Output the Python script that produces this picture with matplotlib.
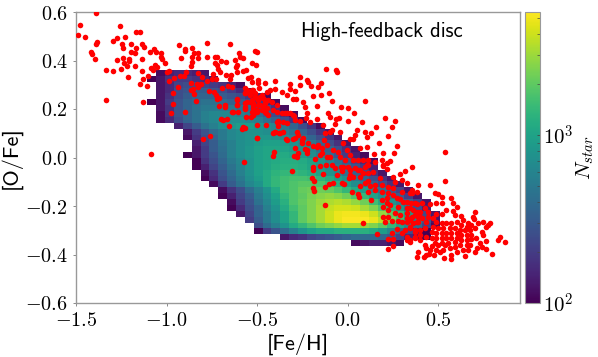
"""[O/Fe] vs [Fe/H] density map with red star overlay, high-feedback disc."""
import matplotlib
matplotlib.use("Agg")
import matplotlib.pyplot as plt
import numpy as np
from matplotlib.colors import LogNorm

plt.rcParams["mathtext.fontset"] = "cm"
plt.rcParams["axes.unicode_minus"] = False
plt.rcParams["axes.formatter.use_mathtext"] = True

XTICKS = [-1.5, -1.0, -0.5, 0.0, 0.5]
YTICKS = [-0.6, -0.4, -0.2, 0.0, 0.2, 0.4, 0.6]
XLIM = (-1.5, 0.95)
YLIM = (-0.6, 0.6)
NMIN, NMAX = 100, 5400

# histogram bins
FEH_START, FEH_STEP = -1.106, 0.0489
OFE_START, OFE_STEP = -0.365, 0.0242

# log10(N) per row, bottom row first: (first column, values)
LOGN_ROWS = [
    (23, [2.05, 2.1, 2.15, 2.15, 2.1, 2.05]),
    (15, [2.1, 2.2, 2.25, 2.35, 2.4, 2.45, 2.5, 2.55, 2.6, 2.6, 2.6, 2.55, 2.5, 2.35, 2.2, 2.1, 2.0]),
    (12, [2.0, 2.3, 2.45, 2.6, 2.75, 2.9, 3.0, 3.05, 3.05, 3.1, 3.1, 3.1, 3.1, 3.05, 2.95, 2.8, 2.6, 2.4, 2.2, 2.0]),
    (12, [2.4, 2.6, 2.75, 2.9, 3.05, 3.15, 3.25, 3.35, 3.4, 3.45, 3.5, 3.5, 3.45, 3.4, 3.3, 3.15, 3.0, 2.8, 2.6, 2.35, 2.05]),
    (11, [2.3, 2.5, 2.7, 2.85, 3.0, 3.15, 3.3, 3.4, 3.5, 3.6, 3.68, 3.72, 3.72, 3.72, 3.68, 3.55, 3.4, 3.2, 3.0, 2.75, 2.45, 2.1]),
    (10, [2.1, 2.35, 2.55, 2.7, 2.85, 3.0, 3.15, 3.3, 3.4, 3.5, 3.6, 3.68, 3.7, 3.7, 3.68, 3.6, 3.45, 3.3, 3.15, 2.95, 2.7, 2.4, 2.1]),
    (9, [2.0, 2.2, 2.4, 2.55, 2.75, 2.9, 3.05, 3.2, 3.3, 3.4, 3.5, 3.58, 3.62, 3.62, 3.6, 3.5, 3.4, 3.25, 3.1, 2.9, 2.65, 2.4, 2.15]),
    (9, [2.05, 2.3, 2.45, 2.65, 2.8, 2.95, 3.1, 3.25, 3.32, 3.4, 3.48, 3.52, 3.55, 3.52, 3.45, 3.35, 3.2, 3.05, 2.9, 2.75, 2.55, 2.35, 2.1]),
    (8, [2.0, 2.15, 2.35, 2.5, 2.7, 2.85, 3.0, 3.15, 3.25, 3.3, 3.38, 3.42, 3.45, 3.42, 3.35, 3.25, 3.15, 3.0, 2.85, 2.7, 2.5, 2.3, 2.1]),
    (8, [2.05, 2.25, 2.4, 2.6, 2.75, 2.9, 3.05, 3.2, 3.25, 3.32, 3.35, 3.35, 3.32, 3.25, 3.15, 3.05, 2.95, 2.8, 2.65, 2.5, 2.35, 2.1]),
    (7, [2.05, 2.3, 2.5, 2.65, 2.8, 2.9, 3.05, 3.15, 3.2, 3.25, 3.28, 3.28, 3.25, 3.18, 3.1, 3.0, 2.85, 2.7, 2.55, 2.4, 2.25, 2.1]),
    (6, [2.0, 2.2, 2.4, 2.55, 2.7, 2.85, 2.95, 3.05, 3.15, 3.2, 3.22, 3.22, 3.2, 3.12, 3.05, 2.95, 2.85, 2.7, 2.55, 2.4, 2.25, 2.1]),
    (6, [2.05, 2.25, 2.45, 2.6, 2.75, 2.88, 2.98, 3.05, 3.12, 3.15, 3.15, 3.12, 3.08, 3.0, 2.9, 2.8, 2.65, 2.55, 2.4, 2.25, 2.1]),
    (5, [2.0, 2.15, 2.35, 2.5, 2.65, 2.78, 2.9, 2.98, 3.02, 3.08, 3.1, 3.1, 3.08, 3.02, 2.92, 2.85, 2.72, 2.6, 2.45, 2.3, 2.15]),
    (5, [2.0, 2.25, 2.4, 2.55, 2.7, 2.8, 2.9, 2.98, 3.02, 3.05, 3.08, 3.08, 3.05, 3.0, 2.9, 2.78, 2.65, 2.5, 2.35, 2.2, 2.05]),
    (4, [2.0, 2.1, 2.3, 2.45, 2.6, 2.75, 2.85, 2.92, 2.98, 3.02, 3.05, 3.05, 3.02, 2.95, 2.85, 2.72, 2.6, 2.45, 2.3, 2.15, 2.05]),
    (5, [2.1, 2.3, 2.5, 2.62, 2.75, 2.85, 2.92, 2.98, 3.02, 3.02, 3.0, 2.95, 2.88, 2.8, 2.65, 2.55, 2.4, 2.25, 2.1]),
    (5, [2.15, 2.35, 2.5, 2.65, 2.75, 2.85, 2.9, 2.95, 2.98, 2.98, 2.95, 2.9, 2.82, 2.7, 2.55, 2.4, 2.25, 2.1]),
    (4, [2.05, 2.25, 2.4, 2.55, 2.7, 2.8, 2.85, 2.9, 2.92, 2.92, 2.88, 2.82, 2.75, 2.65, 2.55, 2.4, 2.25, 2.1]),
    (4, [2.1, 2.3, 2.45, 2.6, 2.7, 2.8, 2.85, 2.88, 2.88, 2.85, 2.8, 2.72, 2.65, 2.55, 2.4, 2.25, 2.1]),
    (3, [2.15, 2.35, 2.5, 2.65, 2.75, 2.85, 2.9, 2.95, 2.95, 2.9, 2.85, 2.8, 2.7, 2.55, 2.4, 2.25, 2.05]),
    (1, [2.05, 2.2, 2.4, 2.55, 2.65, 2.75, 2.8, 2.85, 2.85, 2.85, 2.8, 2.75, 2.65, 2.55, 2.4, 2.25, 2.05]),
    (1, [2.05, 2.25, 2.45, 2.55, 2.65, 2.75, 2.8, 2.8, 2.8, 2.75, 2.7, 2.6, 2.5, 2.4, 2.25, 2.05]),
    (1, [2.1, 2.25, 2.45, 2.55, 2.65, 2.7, 2.7, 2.7, 2.7, 2.65, 2.6, 2.5, 2.4, 2.25, 2.05]),
    (0, [2.0, 2.1, 2.3, 2.45, 2.55, 2.6, 2.65, 2.65, 2.6, 2.55, 2.5, 2.4, 2.3, 2.2, 2.05]),
    (1, [2.1, 2.25, 2.4, 2.5, 2.55, 2.55, 2.55, 2.5, 2.45, 2.4, 2.3, 2.2, 2.05]),
    (1, [2.1, 2.2, 2.4, 2.45, 2.5, 2.5, 2.45, 2.4, 2.3, 2.2, 2.05]),
    (1, [2.1, 2.2, 2.35, 2.4, 2.4, 2.35, 2.3, 2.25, 2.15, 2.05]),
    (0, [2.0, 2.1, 2.25, 2.3, 2.3, 2.25, 2.2, 2.1]),
    (1, [2.05, 2.15, 2.2, 2.2, 2.15, 2.1]),
]

# ([Fe/H], [O/Fe]) of the overlaid stars
RED_STARS = [
    (-1.389, .597), (-1.478, .546), (-1.487, .504), (-1.448, .498), (-1.257, .544), (-1.169, .517), (-1.147, .516),
    (-1.229, .497), (-1.275, .491), (-1.297, .482), (-1.382, .476), (-1.391, .469), (-1.248, .469), (-1.196, .469),
    (-1.242, .453), (-1.137, .467), (-1.123, .456), (-1.169, .453), (-1.419, .435), (-1.413, .427), (-1.395, .407),
    (-1.194, .436), (-1.176, .431), (-1.239, .410), (-1.274, .402), (-1.205, .405), (-1.205, .397), (-1.235, .391),
    (-1.134, .407), (-1.091, .436), (-1.069, .446), (-1.058, .436), (-1.033, .430), (-1.029, .416), (-1.172, .376),
    (-1.220, .377), (-1.253, .366), (-1.334, .362), (-1.297, .358), (-1.136, .355), (-1.088, .368), (-1.077, .361),
    (-1.064, .381), (-1.051, .372), (-1.011, .390), (-1.027, .405), (-1.213, .332), (-1.128, .324), (-1.147, .302),
    (-1.103, .336), (-1.108, .296), (-1.334, .238), (-1.132, .230), (-1.000, .354), (-.988, .358), (-.933, .464),
    (-.862, .453), (-.898, .446), (-.897, .438), (-.919, .410), (-.849, .430), (-.862, .416), (-.827, .430),
    (-.825, .409), (-.779, .471), (-.779, .416), (-.860, .395), (-.865, .379), (-.652, .467), (-.733, .416),
    (-.724, .416), (-.735, .388), (-.724, .381), (-.702, .398), (-.674, .392), (-.624, .402), (-.600, .432),
    (-.595, .416), (-.577, .409), (-.512, .439), (-.503, .436), (-.529, .391), (-.507, .381), (-.613, .380),
    (-.619, .374), (-.742, .344), (-.705, .354), (-.646, .340), (-.650, .324), (-.611, .354), (-.580, .358),
    (-.562, .361), (-.536, .333), (-.549, .326), (-.494, .319), (-.714, .364), (-.674, .340), (-.893, .354),
    (-.926, .336), (-.904, .336),
    (-1.084, .013), (-.978, .182), (-.965, .220), (-.901, .189), (-.963, .267), (-.939, .289), (-.985, .315),
    (-.959, .326), (-.829, .350), (-.803, .333), (-.777, .317), (-.752, .324), (-.728, .322), (-.866, .308),
    (-.834, .303), (-.812, .303), (-.825, .289), (-.853, .282), (-.867, .278), (-.847, .263), (-.764, .274),
    (-.739, .269), (-.728, .258), (-.840, .234), (-.724, .241), (-.713, .244), (-.709, .214), (-.678, .207),
    (-.695, .288), (-.660, .296), (-.638, .289), (-.614, .240), (-.610, .218), (-.632, .189), (-.604, .189),
    (-.698, .159), (-.687, .154), (-.665, .157), (-.656, .131), (-.581, .127), (-.570, .123), (-.584, .116),
    (-.801, .076), (-.763, .090), (-.562, .168), (-.536, .168), (-.566, .223), (-.566, .210), (-.536, .230),
    (-.568, .265), (-.559, .278), (-.540, .258), (-.513, .251), (-.522, .203), (-.513, .189), (-.525, .175),
    (-.500, .079), (-.494, .237), (-.489, .285), (-.522, .278), (-.573, -.017),
    (-.531, .313), (-.494, .309), (-.457, .309), (-.402, .316), (-.319, .304), (-.264, .299), (-.218, .313),
    (-.203, .295), (-.163, .290), (-.150, .306), (-.402, .281), (-.365, .270), (-.319, .281), (-.292, .276),
    (-.338, .258), (-.194, .254), (-.150, .258), (-.102, .265), (-.305, .240), (-.286, .240), (.094, .231),
    (-.246, .227), (-.237, .210), (-.169, .213), (-.089, .231), (-.040, .210), (-.001, .203), (.034, .185),
    (-.108, .183), (-.099, .166), (-.066, .158), (-.047, .162), (.003, .152), (.076, .145), (-.135, .134),
    (-.071, .139), (-.227, .183), (-.231, .162), (-.319, .183), (-.297, .172), (-.347, .183), (-.172, .158),
    (-.209, .148), (-.292, .155), (-.264, .152), (-.384, .152), (-.334, .141), (-.393, .148), (-.500, .134),
    (-.454, .134), (-.384, .128), (-.402, .107), (-.411, .100), (-.378, .103), (-.356, .104), (-.500, .082),
    (-.341, .075), (-.301, .078), (-.283, .107), (-.273, .093), (-.255, .073), (-.255, .059), (-.218, .059),
    (-.191, .048), (-.163, .052), (-.145, .038), (-.132, .073), (-.126, .100), (-.099, .107), (-.089, .114),
    (-.043, .107), (.048, .114), (.094, .107), (.104, .086), (.039, .093), (.030, .075), (.012, .075),
    (.107, .045), (.067, .038), (-.025, .059), (-.117, .052), (-.080, .031), (-.053, .024), (-.007, .029),
    (.012, .011), (-.043, .004), (-.292, .038), (-.273, .018), (-.297, .007), (-.227, .031), (-.227, .020),
    (-.408, .024), (-.415, .008), (-.154, .011), (-.181, -.007), (-.117, .001), (-.099, .001), (-.016, -.010),
    (.030, -.010), (.058, -.010), (.085, -.010), (.113, -.010), (-.310, -.055), (-.191, -.040), (-.191, -.051),
    (-.154, -.033), (-.121, -.031), (-.089, -.031), (-.071, -.042), (-.040, -.040), (-.034, -.054), (.012, -.051),
    (.058, -.051), (.094, -.038), (.113, -.031), (-.135, -.068), (-.062, -.072), (.012, -.072), (-.200, -.086),
    (.067, -.079), (-.531, .279), (-.512, .265), (-.503, .244), (-.531, .238), (-.485, .251), (-.466, .244),
    (-.522, .217), (-.485, .217), (-.457, .224), (-.448, .203), (-.503, .196), (-.476, .196), (-.452, .183),
    (-.439, .238), (-.430, .279), (-.411, .196), (-.393, .189), (-.365, .183),
    (-.121, .365), (-.065, .361), (-.062, .352), (-.224, .319), (-.264, .330),
    (.205, .161), (.262, .149), (.244, .127), (.155, .127), (.126, .102), (.220, .088), (.174, .058),
    (.273, .047), (.144, .014), (.196, .017), (.255, .017), (.538, .021), (.233, -.013), (.187, -.010),
    (.354, -.038), (.214, -.024), (.196, -.034),
    (-.187, -.095), (-.126, -.120), (-.104, -.109), (-.080, -.106), (-.030, -.106), (-.019, -.109), (-.194, -.124),
    (-.187, -.137), (.025, -.143), (.058, -.152), (.061, -.164), (-.126, -.197), (.128, -.175), (.085, -.271),
    (.159, -.315), (.223, -.379), (.251, -.365), (.223, -.337), (.251, -.337), (.150, -.017), (.196, -.031),
    (.218, -.049), (.251, -.079), (.288, -.068), (.315, -.054), (.297, -.093), (.260, -.099), (.328, -.106),
    (.389, -.113), (.141, -.058), (.177, -.086), (.113, -.095), (.095, -.104), (.067, -.117), (.122, -.117),
    (.150, -.113), (.187, -.113), (.223, -.120), (.251, -.127), (.113, -.141), (.150, -.134), (.187, -.141),
    (.223, -.148), (.251, -.154), (.297, -.141), (.352, -.134), (.380, -.141), (.352, -.148), (.187, -.175),
    (.218, -.168), (.269, -.168), (.288, -.172), (.324, -.182), (.370, -.189), (.214, -.189), (.233, -.196),
    (.196, -.203), (.223, -.216), (.279, -.203), (.260, -.230), (.196, -.244), (.223, -.244), (.288, -.237),
    (.343, -.209), (.380, -.223), (.324, -.230), (.352, -.244), (.389, -.244), (.205, -.267), (.242, -.260),
    (.279, -.260), (.297, -.264), (.324, -.264), (.361, -.271), (.389, -.264), (.269, -.295), (.297, -.313),
    (.242, -.313), (.343, -.292), (.370, -.306), (.324, -.326), (.343, -.340), (.370, -.333), (.398, -.319),
    (.389, -.388), (.380, -.409),
    (.535, -.097), (.456, -.114), (.342, -.148), (.480, -.145), (.498, -.152), (.517, -.162), (.522, -.187),
    (.568, -.169), (.578, -.187), (.603, -.203), (.581, -.220), (.544, -.217), (.517, -.231), (.486, -.231),
    (.456, -.192), (.484, -.189), (.407, -.189), (.379, -.192), (.351, -.189), (.305, -.182), (.324, -.210),
    (.361, -.217), (.397, -.224), (.425, -.210), (.443, -.224), (.699, -.224), (.692, -.247), (.695, -.255),
    (.590, -.237), (.627, -.242), (.636, -.258), (.664, -.269), (.719, -.272), (.747, -.265), (.787, -.269),
    (.761, -.286), (.774, -.279), (.738, -.306), (.747, -.320), (.839, -.327), (.830, -.341), (.868, -.350),
    (.793, -.398), (.765, -.379), (.761, -.343), (.728, -.354), (.743, -.368), (.701, -.389), (.714, -.375),
    (.649, -.405), (.636, -.382), (.673, -.361), (.530, -.416), (.567, -.419), (.567, -.402), (.419, -.409),
    (.430, -.402), (.449, -.396), (.476, -.402), (.508, -.389), (.563, -.375), (.590, -.368), (.535, -.361),
    (.498, -.361), (.462, -.365), (.425, -.361), (.342, -.347), (.324, -.341),
    (.489, -.265), (.517, -.272), (.544, -.269), (.572, -.272), (.600, -.265), (.627, -.279), (.655, -.286),
    (.682, -.279), (.471, -.286), (.498, -.292), (.526, -.292), (.563, -.292), (.590, -.292), (.618, -.299),
    (.646, -.299), (.673, -.299), (.701, -.292), (.462, -.306), (.489, -.313), (.517, -.313), (.544, -.313),
    (.572, -.313), (.600, -.313), (.627, -.320), (.655, -.320), (.682, -.320), (.434, -.327), (.462, -.330),
    (.489, -.334), (.517, -.334), (.544, -.334), (.572, -.334), (.600, -.334), (.627, -.341), (.655, -.341),
    (.682, -.338), (.706, -.334), (.397, -.341), (.370, -.327), (.425, -.292), (.397, -.299), (.370, -.299),
    (.342, -.286), (.315, -.299), (.342, -.258), (.324, -.251), (.379, -.265), (.407, -.251), (.434, -.265),
    (.370, -.237), (.397, -.244), (.443, -.244), (.471, -.251), (.480, -.354), (.517, -.354), (.554, -.354),
    (.590, -.347), (.618, -.361), (.655, -.361), (.526, -.382), (.489, -.382), (.452, -.382), (.600, -.389),
    (.434, -.375), (.664, -.382),
    (-.025, -.038), (.003, -.038), (.039, -.044), (.067, -.051), (.104, -.031), (.008, -.086), (.030, -.079),
    (.085, -.062), (.113, -.065),
    (-.568, .285), (-.568, .264), (-.540, .271), (-.512, .250), (-.494, .244), (-.476, .257), (-.448, .271),
    (-.457, .237), (-.420, .230), (-.393, .216), (-.558, .230), (-.522, .223), (-.494, .216), (-.466, .209),
    (-.568, .202), (-.531, .189), (-.503, .189), (-.457, .189), (-.522, .175), (-.439, .175), (-.338, .182),
    (-.301, .175), (-.384, .147), (-.356, .147), (-.402, .106), (-.374, .102), (-.338, .072), (-.292, .079),
    (-.246, .079), (-.283, .003), (-.237, .037), (-.172, .044), (-.145, .017), (-.613, .237), (-.610, .216),
    (-.678, .216), (-.641, .189),
]

n_cols = max(start + len(vals) for start, vals in LOGN_ROWS)
counts = np.full((len(LOGN_ROWS), n_cols), np.nan)
for i, (start, vals) in enumerate(LOGN_ROWS):
    counts[i, start:start + len(vals)] = 10.0 ** np.array(vals)
x_edges = FEH_START + FEH_STEP * np.arange(n_cols + 1)
y_edges = OFE_START + OFE_STEP * np.arange(len(LOGN_ROWS) + 1)

fig = plt.figure(figsize=(5.98, 3.57), dpi=100)
ax = fig.add_axes([76 / 598, 54 / 357, 444 / 598, 291 / 357])
cax = fig.add_axes([525 / 598, 54 / 357, 15 / 598, 291 / 357])

mesh = ax.pcolormesh(x_edges, y_edges, np.ma.masked_invalid(counts), cmap="viridis",
                     norm=LogNorm(vmin=NMIN, vmax=NMAX))
feh, ofe = zip(*RED_STARS)
ax.scatter(feh, ofe, s=16, color="red", linewidths=0, zorder=3)

ax.set_xlim(XLIM)
ax.set_ylim(YLIM)
ax.set_xticks(XTICKS)
ax.set_xticklabels([f"${v:.1f}$" for v in XTICKS])
ax.set_yticks(YTICKS)
ax.set_yticklabels([f"${v:.1f}$" for v in YTICKS])
ax.tick_params(length=2, width=0.6, color="#777777", labelsize=14.5, pad=4)
for spine in ax.spines.values():
    spine.set_color("#999999")
    spine.set_linewidth(1.0)

ax.set_xlabel("[Fe/H]", family="cmss10", fontsize=16, labelpad=2)
ax.set_ylabel("[O/Fe]", family="cmss10", fontsize=16, labelpad=2)
ax.text(0.507, 0.932, "High-feedback disc", family="cmss10", fontsize=14.8, va="center",
        transform=ax.transAxes)

cbar = fig.colorbar(mesh, cax=cax)
cbar.set_ticks([100, 1000], labels=["$10^{2}$", "$10^{3}$"])
cbar.set_label("$N_{star}$", fontsize=15, labelpad=1)
cbar.ax.tick_params(which="major", length=2.5, width=0.6, labelsize=15, pad=2, direction="in", color="#444444")
cbar.ax.tick_params(which="minor", length=2, width=0.5, direction="in", color="#444444")
cbar.outline.set_edgecolor("#999999")
cbar.outline.set_linewidth(0.8)

fig.savefig("out.png", dpi=100)
plt.close(fig)
